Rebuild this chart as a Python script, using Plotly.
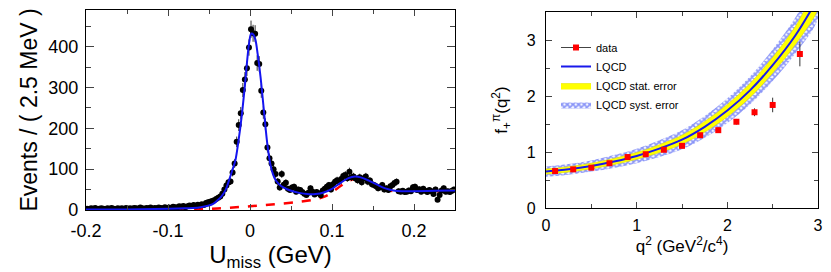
import numpy as np
import plotly.graph_objects as go

# ---------------- Left panel data ----------------
u_bin_start = -0.19875
u_bin_width = 0.0025
u_counts = [3,2,4,3,5,2,3,4,3,2, 4,3,5,3,2,4,3,4,2,5, 3,4,3,5,4,3,6,4,3,5, 4,6,3,5,4,6,5,4,7,5,
            6,5,8,7,6,9,8,10,7,9, 11,10,12,9,13,11,14,12,17,19,
            20,22,24,27,30,33,40,50,
            60,68,70,92,114,167,208,237,294,320,347,398,
            443,433,432,360,358,292,239,210,153,127,
            114,100,88,70,55,88,62,67,52,49,
            55,57,45,50,49,44,40,37,42,53,
            45,38,44,41,36,48,52,57,61,50,
            63,69,73,70,76,83,86,78,94,80,
            82,77,73,80,68,78,82,69,72,63,
            61,58,53,56,61,50,53,49,58,61,
            66,69,46,45,47,44,45,48,46,56,
            57,49,51,45,52,47,44,49,46,39,
            50,25,37,48,53,45,46,44,47,50]
u_x = [u_bin_start + u_bin_width * i for i in range(len(u_counts))]

fit_x = [-0.2,-0.15,-0.1,-0.08,-0.07,-0.06,-0.05,-0.045,-0.04,-0.035,-0.03,-0.026,-0.022,-0.018,-0.014,
         -0.01,-0.006,-0.0035,-0.001,0.0015,0.004,0.0065,0.0095,0.0128,0.0169,0.021,0.025,0.028,0.031,
         0.035,0.04,0.05,0.06,0.07,0.08,0.09,0.1,0.11,0.12,0.128,0.135,0.145,0.155,0.165,0.175,0.185,
         0.2,0.225,0.25]
fit_y = [1,1.5,3,4,5,7,11,15,23,33,48,70,95,120,170,
         232,310,365,410,432,430,418,380,327,245,164,110,88,74,
         64,56,47,42,39,39,43,52,66,78,82,80,72,62,53,48,46,
         46,47,48]

bkg_x = [-0.2,-0.1,-0.06,-0.03,0.0,0.03,0.06,0.08,0.09,0.1,0.11,0.12,0.13,0.14,0.15,0.16,0.17,0.18,0.2,0.25]
bkg_y = [0,0,2,5,9,14,20,26,32,43,58,71,77,74,64,54,48,45,45,46]

# ---------------- Right panel data ----------------
q2_data = [0.1,0.3,0.5,0.7,0.9,1.1,1.3,1.5,1.7,1.9,2.1,2.3,2.5,2.8]
f_data = [0.66,0.69,0.72,0.80,0.91,0.96,1.04,1.11,1.30,1.39,1.54,1.71,1.84,2.75]
f_err = [0.02,0.02,0.02,0.02,0.02,0.03,0.03,0.03,0.04,0.04,0.05,0.07,0.13,0.22]

q2_grid = [0,0.25,0.5,0.75,1.0,1.25,1.5,1.75,2.0,2.25,2.5,2.75,3.0]
lqcd = [0.65,0.69,0.75,0.83,0.93,1.06,1.22,1.45,1.74,2.10,2.55,3.08,3.75]
stat_up = [0.695,0.737,0.80,0.885,0.99,1.13,1.30,1.545,1.85,2.225,2.69,3.24,3.93]
stat_lo = [0.605,0.643,0.70,0.775,0.87,0.99,1.14,1.355,1.63,1.975,2.41,2.92,3.57]
syst_up = [0.74,0.785,0.85,0.945,1.06,1.21,1.39,1.645,1.96,2.35,2.83,3.40,4.11]
syst_lo = [0.56,0.595,0.65,0.715,0.80,0.91,1.05,1.255,1.52,1.85,2.27,2.76,3.39]

FONT = "Liberation Sans, Arial, Helvetica, sans-serif"

fig = go.Figure()

# Left panel
fig.add_trace(go.Scatter(x=bkg_x, y=bkg_y, mode="lines", line=dict(color="red", width=2.5, dash="dash"),
                         line_shape="spline", showlegend=False, xaxis="x", yaxis="y"))
fig.add_trace(go.Scatter(x=u_x, y=u_counts, mode="markers",
                         marker=dict(color="black", size=6),
                         error_y=dict(type="data", array=np.sqrt(u_counts), color="black", thickness=0.8, width=0),
                         showlegend=False, xaxis="x", yaxis="y"))
fig.add_trace(go.Scatter(x=fit_x, y=fit_y, mode="lines", line=dict(color="rgb(20,20,240)", width=2),
                         line_shape="spline", showlegend=False, xaxis="x", yaxis="y"))

# Right panel
fig.add_trace(go.Scatter(x=q2_grid + q2_grid[::-1], y=syst_up + syst_lo[::-1], mode="lines",
                         fill="toself", line=dict(width=0, color="rgba(0,0,0,0)"), line_shape="spline",
                         fillcolor="rgba(255,255,255,0)",
                         fillpattern=dict(shape="x", fgcolor="rgb(30,50,240)", bgcolor="rgb(245,247,255)",
                                          size=4, solidity=0.65),
                         name="LQCD syst. error", legendrank=4, xaxis="x2", yaxis="y2"))
fig.add_trace(go.Scatter(x=q2_grid + q2_grid[::-1], y=stat_up + stat_lo[::-1], mode="lines",
                         fill="toself", line=dict(width=0.6, color="rgb(230,230,0)"), line_shape="spline",
                         fillcolor="rgb(255,255,0)",
                         name="LQCD stat. error", legendrank=3, xaxis="x2", yaxis="y2"))
fig.add_trace(go.Scatter(x=q2_grid, y=lqcd, mode="lines", line=dict(color="rgb(25,25,235)", width=2),
                         line_shape="spline", name="LQCD", legendrank=2, xaxis="x2", yaxis="y2"))
fig.add_trace(go.Scatter(x=q2_data, y=f_data, mode="markers",
                         marker=dict(color="red", size=6, symbol="square"),
                         error_y=dict(type="data", array=f_err, color="#333", thickness=1, width=0),
                         showlegend=False, xaxis="x2", yaxis="y2"))
fig.add_trace(go.Scatter(x=[None], y=[None], mode="lines+markers",
                         line=dict(color="#444", width=1),
                         marker=dict(color="red", size=6, symbol="square"),
                         name="data", legendrank=1, xaxis="x2", yaxis="y2"))

axis_common = dict(showgrid=False, zeroline=False, showline=True, linecolor="black", linewidth=1.2,
                   mirror="ticks", ticks="inside", tickcolor="#444", automargin=False)

fig.update_layout(
    width=831, height=272,
    margin=dict(l=0, r=0, t=0, b=0, autoexpand=False),
    paper_bgcolor="white", plot_bgcolor="white",
    font=dict(family=FONT, color="black"),
    xaxis=dict(domain=[86/831, 455/831], range=[-0.2, 0.25], anchor="y",
               tickvals=[-0.2,-0.1,0,0.1,0.2], ticktext=["-0.2","-0.1","0","0.1","0.2"],
               ticklen=6, tickfont=dict(size=18, family=FONT, color="black"), ticklabelstandoff=4,
               minor=dict(dtick=0.05, ticks="inside", ticklen=4, tickcolor="#444"),
               title=dict(text="U<sub>miss</sub> (GeV)", font=dict(size=24, family=FONT), standoff=0),
               **axis_common),
    yaxis=dict(domain=[62/272, 262/272], range=[0, 490], anchor="x",
               tickvals=[0,100,200,300,400], ticklen=8, tickfont=dict(size=18, family=FONT, color="black"),
               ticklabelstandoff=3,
               minor=dict(dtick=50, ticks="inside", ticklen=5, tickcolor="#444"),
               title=dict(text="Events / ( 2.5 MeV )", font=dict(size=23, family=FONT), standoff=4),
               **axis_common),
    xaxis2=dict(domain=[546/831, 818/831], range=[0, 3], anchor="y2",
                tickvals=[0,1,2,3], ticklen=6, tickfont=dict(size=16, family=FONT, color="black"),
                ticklabelstandoff=3,
                minor=dict(dtick=0.5, ticks="inside", ticklen=4, tickcolor="#444"),
                title=dict(text="q<sup>2</sup> (GeV<sup>2</sup>/c<sup>4</sup>)", font=dict(size=17, family=FONT), standoff=4),
                **axis_common),
    yaxis2=dict(domain=[64/272, 260/272], range=[0, 3.5], anchor="x2",
                tickvals=[0,1,2,3], ticklen=6, tickfont=dict(size=16, family=FONT, color="black"),
                ticklabelstandoff=6,
                minor=dict(dtick=0.5, ticks="inside", ticklen=4, tickcolor="#444"),
                title=dict(text="f<sub>+</sub><sup>π</sup>(q<sup>2</sup>)", font=dict(size=17, family=FONT), standoff=14),
                **axis_common),
    legend=dict(x=556/831, y=1 - 33/272, xanchor="left", yanchor="top",
                bgcolor="rgba(255,255,255,0)", font=dict(size=11, family=FONT),
                itemwidth=30, tracegroupgap=0),
)

fig.write_html("out.html", config={"displayModeBar": False},
               post_script="document.body.style.margin='0';document.body.style.overflow='hidden';")
